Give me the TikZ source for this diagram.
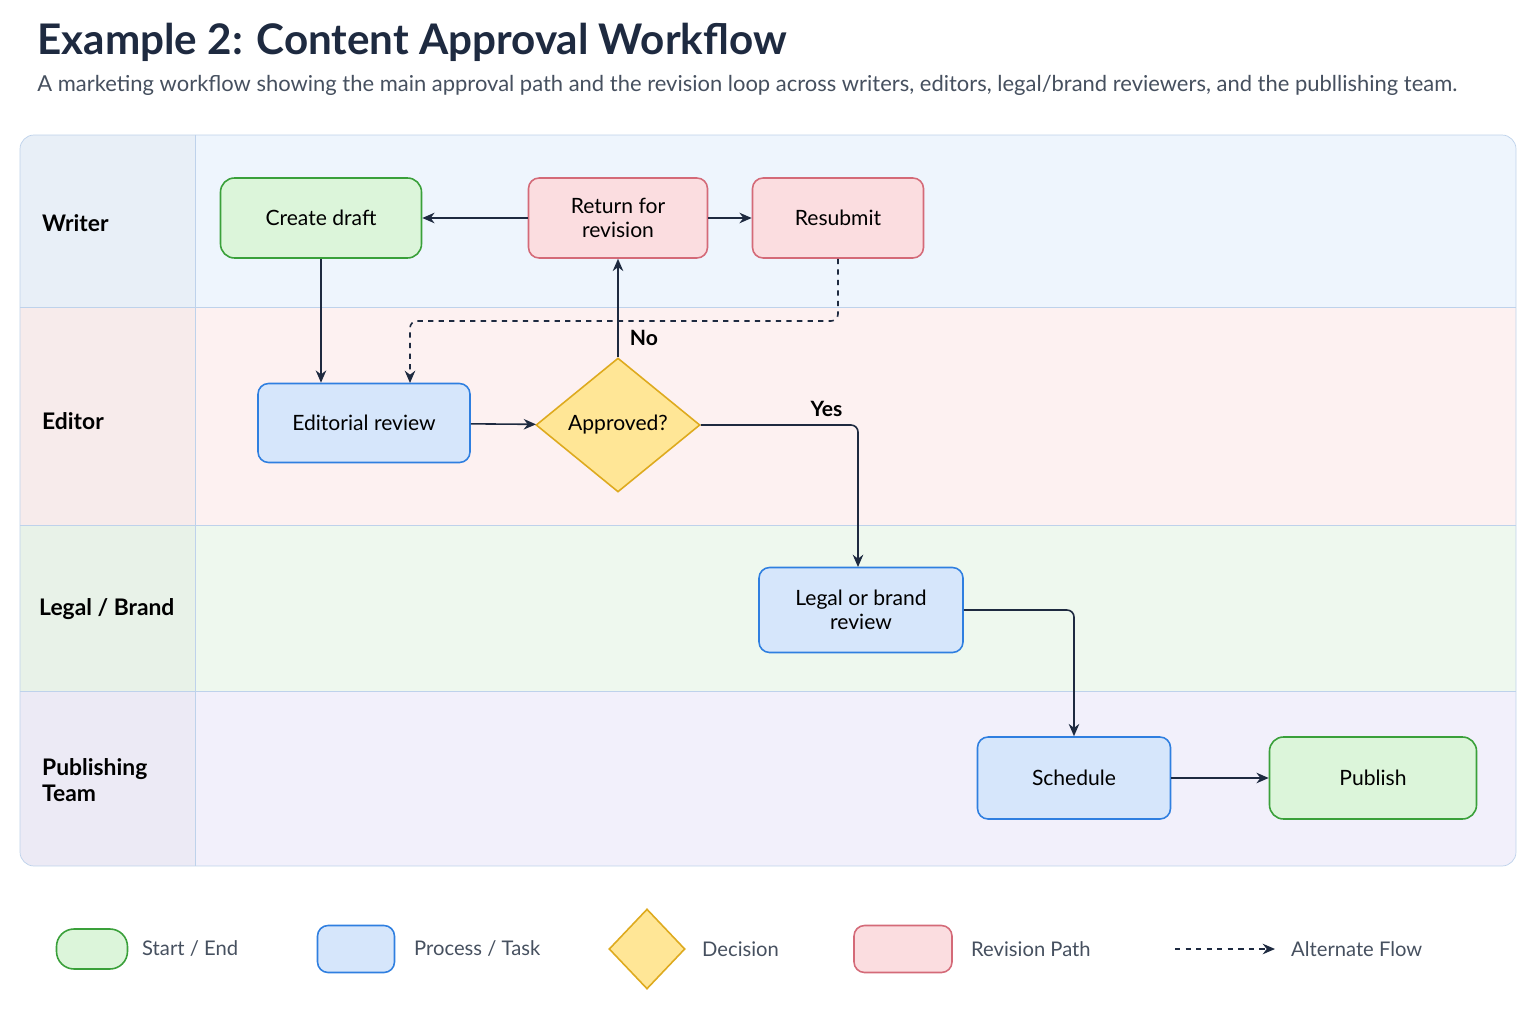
\documentclass[tikz,border=0pt]{standalone}
\usepackage{fontspec}
\setmainfont{Lato}
\usetikzlibrary{positioning,shapes.geometric,arrows.meta,calc}
\definecolor{ink}{RGB}{30,42,64}
\definecolor{subgray}{RGB}{70,80,95}
\definecolor{greenfill}{RGB}{220,245,218}
\definecolor{greenline}{RGB}{58,160,58}
\definecolor{bluefill}{RGB}{214,230,251}
\definecolor{blueline}{RGB}{47,127,224}
\definecolor{pinkfill}{RGB}{251,221,224}
\definecolor{pinkline}{RGB}{212,106,120}
\definecolor{yelfill}{RGB}{255,230,150}
\definecolor{yelline}{RGB}{222,170,30}
\definecolor{lanewriter}{RGB}{238,245,253}
\definecolor{laneeditor}{RGB}{253,241,241}
\definecolor{lanelegal}{RGB}{238,248,238}
\definecolor{lanepub}{RGB}{242,240,251}
\definecolor{laneline}{RGB}{190,210,235}
\tikzset{
  startend/.style={draw=greenline, fill=greenfill, rounded corners=8pt, line width=0.9pt, align=center, font=\fontsize{12}{14}\selectfont},
  task/.style={draw=blueline, fill=bluefill, rounded corners=6pt, line width=0.9pt, align=center, font=\fontsize{12}{14}\selectfont},
  revision/.style={draw=pinkline, fill=pinkfill, rounded corners=6pt, line width=0.9pt, align=center, font=\fontsize{12}{14}\selectfont},
  decision/.style={diamond, draw=yelline, fill=yelfill, line width=0.9pt, aspect=1.22, inner sep=1pt, font=\fontsize{12}{14}\selectfont},
  flow/.style={-{Stealth[length=7pt,width=6pt]}, draw=ink, line width=0.9pt, rounded corners=4pt},
  altflow/.style={flow, dashed},
  lanelabel/.style={anchor=west, align=left, font=\bfseries\fontsize{13}{15}\selectfont},
  legendtext/.style={anchor=west, text=subgray, font=\fontsize{11.5}{14}\selectfont}
}
\begin{document}
\begin{tikzpicture}[x=0.02cm, y=-0.02cm]
  \useasboundingbox (0,0) rectangle (1536,1024);
  \fill[white] (0,0) rectangle (1536,1024);

  % title
  \node[anchor=west, inner sep=0, text=ink, font=\bfseries\fontsize{24}{28}\selectfont] (title) at (37,42) {Example 2: Content Approval Workflow};
  \node[anchor=west, inner sep=0, text=subgray, font=\fontsize{12.5}{15}\selectfont] (subtitle) at (37,85) {A marketing workflow showing the main approval path and the revision loop across writers, editors, legal/brand reviewers, and the publlishing team.};

  % lanes
  \begin{scope}
    \clip[rounded corners=8pt] (20,135) rectangle (1516,866);
    \fill[lanewriter] (20,135) rectangle (1516,307);
    \fill[laneeditor] (20,307) rectangle (1516,525);
    \fill[lanelegal] (20,525) rectangle (1516,691);
    \fill[lanepub] (20,691) rectangle (1516,866);
    \fill[black, opacity=0.025] (20,135) rectangle (195,866);
  \end{scope}
  \draw[laneline] (195,135) -- (195,866);
  \draw[laneline] (20,307) -- (1516,307);
  \draw[laneline] (20,525) -- (1516,525);
  \draw[laneline] (20,691) -- (1516,691);
  \draw[laneline, rounded corners=8pt] (20,135) rectangle (1516,866);

  \node[lanelabel] (lwriter) at (36,223) {Writer};
  \node[lanelabel] (leditor) at (36,421) {Editor};
  \node[lanelabel] (llegal) at (33,609) {Legal / Brand};
  \node[lanelabel] (lpub) at (36,780) {Publishing\\Team};

  % nodes
  \node[startend, minimum width=201*0.02cm, minimum height=80*0.02cm] (draft) at (321,218) {Create draft};
  \node[revision, minimum width=179*0.02cm, minimum height=80*0.02cm] (return) at (618,218) {Return for\\revision};
  \node[revision, minimum width=171*0.02cm, minimum height=80*0.02cm] (resubmit) at (838,218) {Resubmit};
  \node[task, minimum width=212*0.02cm, minimum height=79*0.02cm] (editorial) at (364,423) {Editorial review};
  \node[decision, minimum width=164*0.02cm, minimum height=134*0.02cm] (approved) at (618,425) {Approved?};
  \node[task, minimum width=204*0.02cm, minimum height=85*0.02cm] (legal) at (861,610) {Legal or brand\\review};
  \node[task, minimum width=193*0.02cm, minimum height=82*0.02cm] (schedule) at (1074,778) {Schedule};
  \node[startend, minimum width=207*0.02cm, minimum height=82*0.02cm] (publish) at (1373,778) {Publish};

  % connectors
  \draw[flow] (return) -- (draft);
  \draw[flow] (return) -- (resubmit);
  \draw[flow] (draft) -- (draft |- editorial.north);
  \draw[altflow] (resubmit.south) |- (410,321) -- (410,383);
  \draw[flow] (editorial) -- (approved);
  \draw[flow] (approved.north) -- node[pos=0.2, right=3pt, font=\bfseries\fontsize{12}{14}\selectfont] {No} (return.south);
  \draw[flow] (approved.east) -| node[pos=0.4, above=1pt, font=\bfseries\fontsize{12}{14}\selectfont] {Yes} (858,567);
  \draw[flow] (legal.east) -| (schedule.north);
  \draw[flow] (schedule) -- (publish);

  % legend
  \node[startend, rounded corners=10pt, minimum width=71*0.02cm, minimum height=40*0.02cm] (kstart) at (92,949) {};
  \node[legendtext] (tstart) at (136,949) {Start / End};
  \node[task, minimum width=77*0.02cm, minimum height=47*0.02cm] (ktask) at (356,949) {};
  \node[legendtext] (ttask) at (408,949) {Process / Task};
  \node[decision, minimum width=76*0.02cm, minimum height=80*0.02cm] (kdecision) at (647,949) {};
  \node[legendtext] (tdecision) at (696,949) {Decision};
  \node[revision, minimum width=98*0.02cm, minimum height=47*0.02cm] (krevision) at (903,949) {};
  \node[legendtext] (trevision) at (965,949) {Revision Path};
  \coordinate (kalt) at (1175,949);
  \node[legendtext] (talt) at (1285,949) {Alternate Flow};
  \draw[altflow] (kalt) -- (1275,949);
\end{tikzpicture}
\end{document}
